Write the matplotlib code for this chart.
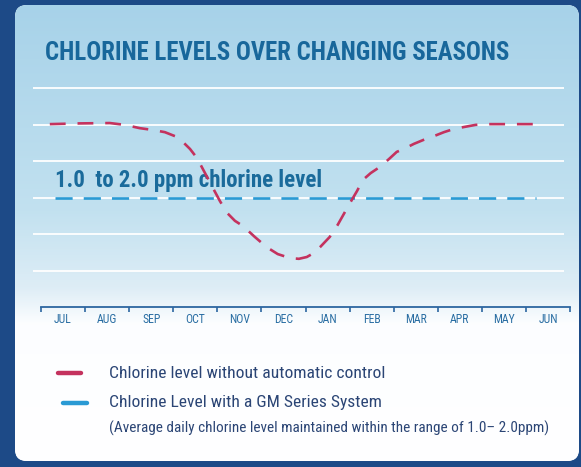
import numpy as np
import matplotlib
matplotlib.use("Agg")
import matplotlib.pyplot as plt
from matplotlib.patches import FancyBboxPatch

# month ticks, JUL .. JUN
months = ["JUL", "AUG", "SEP", "OCT", "NOV", "DEC",
          "JAN", "FEB", "MAR", "APR", "MAY", "JUN"]

# chlorine level without automatic control (x in months from start of JUL,
# y in grid steps above the axis)
manual_x = [0.20, 0.88, 1.56, 1.90, 2.24, 2.54, 2.81, 3.04, 3.22, 3.38, 3.54,
            3.72, 3.90, 4.06, 4.22, 4.40, 4.58, 4.85, 5.12, 5.37, 5.65, 5.85,
            6.03, 6.19, 6.33, 6.55, 6.73, 6.87, 7.01, 7.17, 7.30, 7.48, 7.69,
            7.89, 8.07, 8.23, 8.46, 8.68, 8.91, 9.14, 9.37, 9.59, 9.86, 10.14,
            10.77, 11.41]
manual_y = [5.01, 5.03, 5.04, 4.99, 4.90, 4.85, 4.79, 4.68, 4.52, 4.33, 4.08,
            3.67, 3.26, 2.90, 2.58, 2.36, 2.22, 1.92, 1.64, 1.45, 1.34, 1.32,
            1.37, 1.48, 1.64, 1.92, 2.25, 2.55, 2.85, 3.18, 3.48, 3.67, 3.84,
            4.05, 4.25, 4.33, 4.47, 4.58, 4.68, 4.79, 4.88, 4.93, 4.99, 5.01,
            5.01, 5.01]

# chlorine level with a GM series system
gm_x = [0.32, 11.22]
gm_y = [3.0, 3.0]

grid_levels = [1, 2, 3, 4, 5, 6]

W, H = 581, 467
cond = "Roboto Condensed"

fig = plt.figure(figsize=(W / 100, H / 100), dpi=100)
fig.patch.set_facecolor("#1d4a87")

# background panel, in pixel coordinates
bg = fig.add_axes([0, 0, 1, 1])
bg.set_xlim(0, W)
bg.set_ylim(H, 0)
bg.axis("off")

panel = FancyBboxPatch((27, 17), 540, 432, boxstyle="round,pad=12",
                       facecolor="white", edgecolor="none")
bg.add_patch(panel)
stops = np.array([[0.00, 0.655, 0.824, 0.914],
                  [0.45, 0.760, 0.882, 0.940],
                  [0.62, 0.870, 0.930, 0.965],
                  [0.70, 0.990, 0.995, 1.000],
                  [1.00, 1.000, 1.000, 1.000]])
t = np.linspace(0, 1, 400)
grad = np.stack([np.interp(t, stops[:, 0], stops[:, i]) for i in (1, 2, 3)], axis=-1)
img = bg.imshow(grad[:, None, :], extent=(15, 579, 461, 5), aspect="auto", zorder=1)
img.set_clip_path(panel)

bg.text(45, 53, "CHLORINE LEVELS OVER CHANGING SEASONS", family=cond,
        fontweight="bold", fontsize=17.8, color="#18679b", va="center", ha="left")

# chart area: x 0..12 -> px 41..570, y 0..6 -> px 307..88
x0, x1, y0, y1 = 41, 570, 307, 88
ax = fig.add_axes([x0 / W, 1 - y0 / H, (x1 - x0) / W, (y0 - y1) / H])
ax.set_xlim(0, 12)
ax.set_ylim(0, 6)
ax.patch.set_alpha(0)
for s in ["top", "right", "left"]:
    ax.spines[s].set_visible(False)
ax.spines["bottom"].set_color("#2d66a0")
ax.spines["bottom"].set_linewidth(1.3)
ax.set_yticks([])
ax.set_xticks(range(13))
ax.set_xticklabels([])
ax.set_xticks(np.arange(12) + 0.5, minor=True)
ax.set_xticklabels(months, minor=True, family=cond, fontsize=8.5, color="#2a6ea3")
ax.tick_params(axis="x", which="major", direction="out", length=3.5, width=1.2,
               color="#2d66a0")
ax.tick_params(axis="x", which="minor", length=0, pad=4)

ax.hlines(grid_levels, -0.18, 11.86, color="white", lw=1.3, clip_on=False, zorder=1)

ax.plot(gm_x, gm_y, color="#2a9ad4", lw=1.9, dashes=(6.5, 4.2),
        dash_capstyle="butt", zorder=3, clip_on=False)
ax.plot(manual_x, manual_y, color="#c4325e", lw=1.9, dashes=(6.0, 4.5),
        dash_capstyle="butt", solid_joinstyle="round", zorder=4, clip_on=False)

ax.text(0.32, 3.47, "1.0  to 2.0 ppm chlorine level", family=cond,
        fontweight="bold", fontsize=16.5, color="#1a6b9b", va="center", ha="left",
        zorder=2)

# legend
bg.plot([58, 81], [373, 373], color="#c4325e", lw=3.2, solid_capstyle="round", zorder=3)
bg.plot([63, 87], [403, 403], color="#2a9ad4", lw=3.2, solid_capstyle="round", zorder=3)
bg.text(109, 373, "Chlorine level without automatic control", family=cond,
        fontsize=12.6, color="#2b4575", va="center", ha="left", zorder=3)
bg.text(109, 403, "Chlorine Level with a GM Series System", family=cond,
        fontsize=12.6, color="#2b4575", va="center", ha="left", zorder=3)
bg.text(109, 428, "(Average daily chlorine level maintained within the range of 1.0\u2013 2.0ppm)",
        family=cond, fontsize=11, color="#2b4575", va="center", ha="left", zorder=3)

fig.savefig("out.png", dpi=100, facecolor=fig.get_facecolor())
